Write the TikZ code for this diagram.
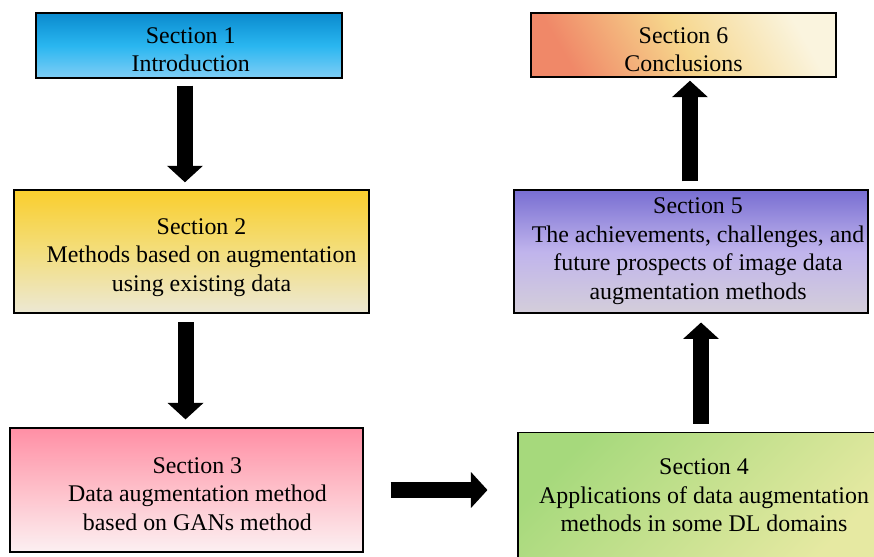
\documentclass[tikz,border=0pt]{standalone}
\usepackage{fontspec}
\setmainfont{Liberation Serif}
\usepackage{tikz}
\usetikzlibrary{arrows.meta}

\definecolor{blueTop}{RGB}{10,138,206}
\definecolor{blueMid}{RGB}{41,182,240}
\definecolor{blueBot}{RGB}{128,206,246}
\definecolor{yellowTop}{RGB}{250,206,45}
\definecolor{yellowMid}{RGB}{243,222,125}
\definecolor{yellowBot}{RGB}{236,232,212}
\definecolor{pinkTop}{RGB}{255,143,165}
\definecolor{pinkMid}{RGB}{254,192,202}
\definecolor{pinkBot}{RGB}{252,240,242}
\definecolor{greenTop}{RGB}{166,217,124}
\definecolor{greenBot}{RGB}{230,233,162}
\definecolor{purpleTop}{RGB}{120,110,210}
\definecolor{purpleMid}{RGB}{192,180,236}
\definecolor{purpleBot}{RGB}{212,206,218}
\definecolor{orangeBot}{RGB}{240,136,104}
\definecolor{orangeMid}{RGB}{246,214,140}
\definecolor{orangeTop}{RGB}{250,244,222}

% box text, moved right by #1/2 and down by #2
\newcommand{\sectext}[3]{\raisebox{0pt}[\dimexpr\height+#2\relax][\dimexpr\depth-#2\relax]{%
  \hspace*{#1}\begin{tabular}{@{}c@{}}#3\end{tabular}}}

\tikzset{
  secbox/.style={rectangle, draw=black, line width=0.8pt, inner sep=0pt,
    font=\fontsize{13.6}{16.3}\selectfont},
  flow/.style={line width=0.32cm, draw=black, -{Triangle[length=0.33cm, width=0.7cm]}}
}

\begin{document}
\begin{tikzpicture}[x=0.02cm, y=-0.02cm]
        \useasboundingbox (0,0) rectangle (874,556);

        \node[secbox, minimum width=6.12cm, minimum height=1.3cm,
              top color=blueTop, bottom color=blueBot, middle color=blueMid]
              at (189,45.5) (S1) {\sectext{2pt}{3.6pt}{Section 1\\Introduction}};
        \node[secbox, minimum width=7.1cm, minimum height=2.46cm,
              top color=yellowTop, bottom color=yellowBot, middle color=yellowMid]
              at (191.5,251.5) (S2) {\sectext{11.4pt}{3.1pt}{Section 2\\Methods based on augmentation\\using existing data}};
        \node[secbox, minimum width=7.06cm, minimum height=2.48cm,
              top color=pinkTop, bottom color=pinkBot, middle color=pinkMid]
              at (186.5,490) (S3) {\sectext{12.4pt}{3.4pt}{Section 3\\Data augmentation method\\based on GANs method}};
        \node[secbox, minimum width=7.44cm, minimum height=2.5cm,
              top color=greenTop, bottom color=greenBot, shading angle=45]
              at (704,495) (S4) {\sectext{0pt}{1.4pt}{Section 4\\Applications of data augmentation\\methods in some DL domains}};
        \node[secbox, minimum width=7.08cm, minimum height=2.46cm,
              top color=purpleTop, bottom color=purpleBot, middle color=purpleMid]
              at (691,251.5) (S5) {\sectext{8pt}{-0.4pt}{Section 5\\The achievements, challenges, and\\future prospects of image data\\augmentation methods}};
        \node[secbox, minimum width=6.1cm, minimum height=1.28cm,
              top color=orangeTop, bottom color=orangeBot, middle color=orangeMid, shading angle=-60]
              at (683.5,45) (S6) {\sectext{0pt}{3.8pt}{Section 6\\Conclusions}};

        % reading order of the sections
        \draw[flow, shorten <=4pt, shorten >=4pt] ([xshift=-2.3pt]S1.south) -- ([xshift=-2.3pt]S1.south |- S2.north);
        \draw[flow, shorten <=5pt, shorten >=4.5pt] ([xshift=-3.4pt]S2.south) -- ([xshift=-3.4pt]S2.south |- S3.north);
        \draw[flow, shorten <=15.4pt, shorten >=17pt] (S3.east) -- (S3.east -| S4.west);
        \draw[flow, shorten <=4.5pt, shorten >=5pt] ([xshift=-1.7pt]S4.north) -- ([xshift=-1.7pt]S4.north |- S5.south);
        \draw[flow, shorten <=4.5pt, shorten >=1.7pt] ([xshift=-0.6pt]S5.north) -- ([xshift=-0.6pt]S5.north |- S6.south);
\end{tikzpicture}
\end{document}
